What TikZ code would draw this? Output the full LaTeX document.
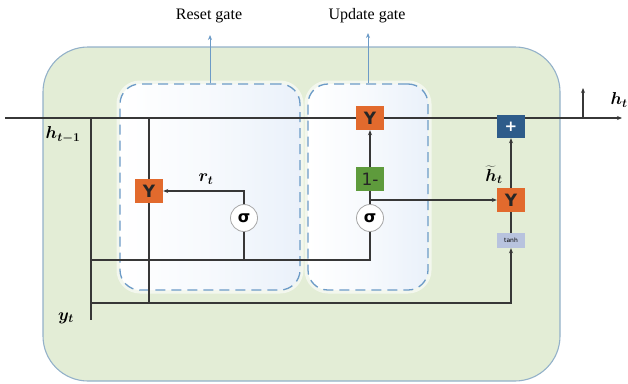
\documentclass[tikz,border=0pt]{standalone}
\usepackage{fontspec}
\setmainfont{Liberation Serif}
\newfontfamily\boxfont{DejaVu Sans}
\usepackage{bm}
\usetikzlibrary{arrows.meta}
\definecolor{greenbg}{RGB}{227,237,214}
\definecolor{outerc}{RGB}{147,177,201}
\definecolor{gatec}{RGB}{108,155,199}
\definecolor{gatefill}{RGB}{234,241,250}
\definecolor{orangec}{RGB}{226,106,45}
\definecolor{greenc}{RGB}{94,155,60}
\definecolor{bluec}{RGB}{46,92,138}
\definecolor{tanhc}{RGB}{184,195,222}
\definecolor{linec}{RGB}{55,55,55}
\tikzset{
  conn/.style={draw=linec, line width=1.1pt},
  arr/.style={conn, -{Stealth[length=5pt,width=4pt]}},
  gatebox/.style={draw=gatec, line width=1.3pt, dash pattern=on 10pt off 6pt, rounded corners=20pt, left color=white, right color=gatefill, middle color=white!60!gatefill},
  gatearr/.style={draw=gatec, line width=0.9pt, -{Stealth[length=5pt,width=4pt]}},
  opbox/.style={minimum width=28pt, minimum height=24pt, inner sep=0pt, draw=none},
  mul/.style={opbox, fill=orangec, text=black!85, font=\boxfont\bfseries\fontsize{17}{17}\selectfont},
  sig/.style={circle, draw=gray!70, line width=0.8pt, fill=white, minimum size=27pt, inner sep=0pt, font=\boxfont\bfseries\fontsize{16}{16}\selectfont},
  lbl/.style={font=\fontsize{16}{17}\selectfont},
  mlbl/.style={inner sep=0pt, font=\fontsize{17}{18}\selectfont},
}
\begin{document}
\begin{tikzpicture}[x=1pt,y=-1pt]
\useasboundingbox (0,0) rectangle (628,383);
% outer cell
\node[draw=outerc, fill=greenbg, line width=1.1pt, rounded corners=45pt, minimum width=517pt, minimum height=334pt] (cell) at (301.5,214) {};
% gates halo + boxes
\draw[white, opacity=0.6, line width=7pt, rounded corners=20pt] (120,84) rectangle (300,290);
\draw[white, opacity=0.6, line width=7pt, rounded corners=20pt] (308,84) rectangle (428,290);
\node[gatebox, minimum width=180pt, minimum height=206pt] (rg) at (210,187) {};
\node[gatebox, minimum width=120pt, minimum height=206pt] (ug) at (368,187) {};
% gate labels
\node[lbl] (rgl) at (209,16) {Reset gate};
\node[lbl] (ugl) at (367,16) {Update gate};
\coordinate (rga) at (210,35);
\coordinate (uga) at (368,33);
\draw[gatearr] (rg.north) -- (rga);
\draw[gatearr] (ug.north) -- (uga);
% main line
\coordinate (mainL) at (5,118);
\coordinate (mainR) at (622,118);
\draw[arr] (mainL) -- (mainR);
\coordinate (up0) at (583,118);
\coordinate (up1) at (583,88);
\draw[arr] (up0) -- (up1);
\node[mlbl] (lht) at (619,100) {$\bm{h_t}$};
% input lines
\coordinate (ht1) at (91,118);
\coordinate (ytb) at (91,320);
\draw[conn] (ht1) -- (ytb);
\node[mlbl] (lht1) at (63,135) {$\bm{h_{t-1}}$};
\node[mlbl] (lyt) at (66,318) {$\bm{y_t}$};
% nodes
\node[mul] (ry) at (149,191) {Y};
\node[sig] (rs) at (244,218) {σ};
\node[mul] (uy) at (370,118) {Y};
\node[opbox, fill=greenc, text=black!85, font=\boxfont\fontsize{17}{17}\selectfont] (om) at (370,179) {1-};
\node[sig] (us) at (370,218) {σ};
\node[mul] (yy) at (511,200) {Y};
\node[opbox, fill=tanhc, minimum height=15pt, font=\boxfont\fontsize{6}{6}\selectfont] (th) at (511,240.5) {tanh};
\node[opbox, fill=bluec, minimum height=23pt, text=white, font=\boxfont\bfseries\fontsize{15}{15}\selectfont] (pl) at (511,126.5) {+};
% labels
\node[mlbl] (lrt) at (206,179) {$\bm{r_t}$};
\node[mlbl] (lhh) at (494,175) {$\bm{\widetilde{h}_t}$};
% reset connections
\coordinate (ryTop) at (149,118);
\draw[conn] (ryTop) -- (ry.north);
\coordinate (c0) at (91,260);
\coordinate (b0) at (91,303);
\draw[conn] (ry.south) -- (ry.south |- b0);
\draw[conn] (c0) -| (us.south);
\draw[conn] (rs.south) -- (rs.south |- c0);
\draw[arr] (rs.north) |- (ry.east);
% update connections
\draw[conn] (us.north) -- (om.south);
\draw[arr] (om.north) -- (uy.south);
\draw[arr] (us.north |- yy.west) -- (yy.west);
% candidate
\draw[arr] (b0) -| (th.south);
\draw[conn] (th.north) -- (yy.south);
\draw[arr] (yy.north) -- (pl.south);
\end{tikzpicture}
\end{document}
